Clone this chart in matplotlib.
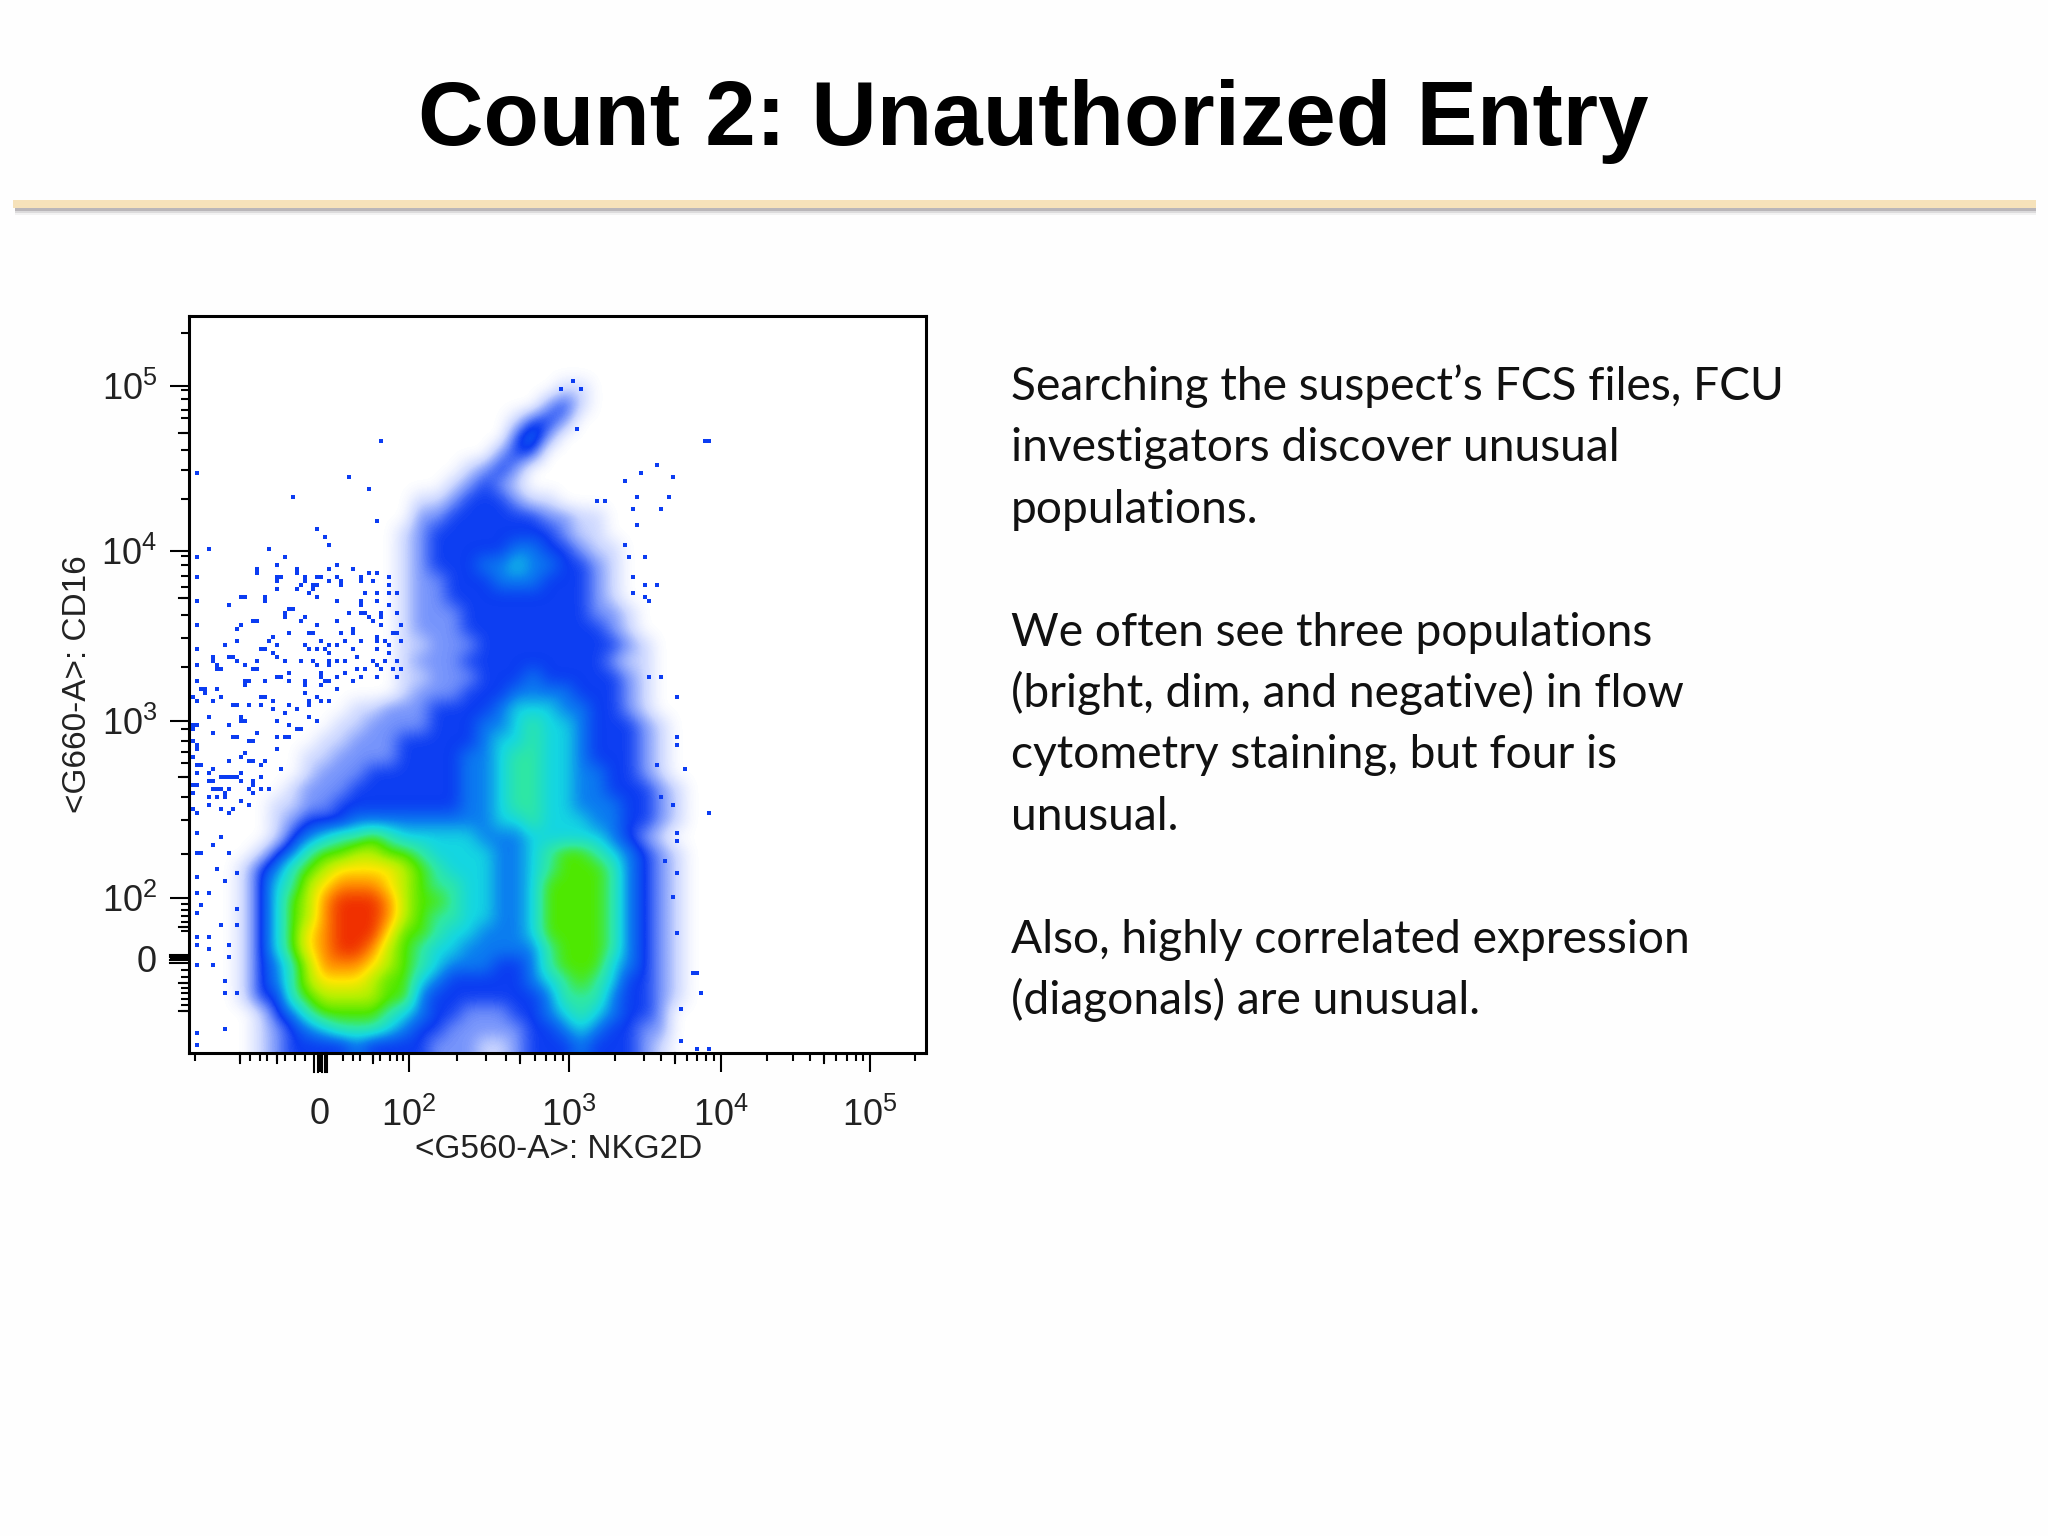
import matplotlib
matplotlib.use("Agg")
import matplotlib.pyplot as plt
from matplotlib.colors import LinearSegmentedColormap
from matplotlib.patches import Rectangle
import numpy as np

plt.rcParams['font.family'] = ['Liberation Sans', 'DejaVu Sans']
plt.rcParams['mathtext.default'] = 'regular'

W, H = 2048, 1536

title = "Count 2: Unauthorized Entry"
x_label = "<G560-A>: NKG2D"
y_label = "<G660-A>: CD16"
body_lines = [
    "Searching the suspect’s FCS files, FCU",
    "investigators discover unusual",
    "populations.",
    "",
    "We often see three populations",
    "(bright, dim, and negative) in flow",
    "cytometry staining, but four is",
    "unusual.",
    "",
    "Also, highly correlated expression",
    "(diagonals) are unusual.",
]

# density level, one string per row from the top, 4 channels a cell
# 0 = empty ... 3 = solid blue, 5 = cyan, 7 = green, 9 = yellow, b = red
density_rows = [
    "", "", "", "",
    "00000000000000000000000110",
    "00000000000000000000002310",
    "00000000000000000000133200",
    "00000000000000000000342000",
    "00000000000000000002330000",
    "00000000000000000123200000",
    "00000000000000001232100000",
    "00000000000000112333211000",
    "00000000000000223333332211",
    "0000000000000123333333321100",
    "00000000000001233333443321100000",
    "000000000000012333445443321",
    "000000000000012233344433321",
    "000000000000012233333333321",
    "0000000000000122233333333221",
    "00000000000001222333333333210",
    "00000000000001122233333333321",
    "00000000000001222333333333211",
    "00000000000001122233343333321",
    "00000000000001222333444433321",
    "00000000001122233334555443321000",
    "00000000011222233344565543332100",
    "00000000112223333345565543332100",
    "00000001122223333445665543332100",
    "00000001222333333445665544332100",
    "00000012223333333445665544333210",
    "00000112233333333445665544433210",
    "00000123334444444445565554433210",
    "000001345667655555444555554321",
    "0000134677887765555445677654321",
    "0001346789999876555445677764321",
    "000135689aaa9876655445777764321",
    "00013578abbba877655445777764321",
    "00013578abbba876655445777764321",
    "00013579abbb9776554445777764321",
    "00013579abba8765544444677764321",
    "00013468aaa98765444334677754321",
    "0001346899987754333334567653321",
    "0001336788887743333333466643321",
    "0000134677776543322233456543320",
    "0000123456665433222223345433220",
    "0000123333433332221123334333210",
]

# single events outside the main populations, in display channels
stray_x = [96, 93, 98, 97, 48, 129, 130, 117, 2, 40, 113, 121, 109, 45, 26, 112, 120, 118, 111, 102,
           104, 47, 112, 32, 34, 35, 109, 20, 5, 110, 114, 24, 2, 22, 27, 17, 23, 2, 29, 33,
           38, 111, 28, 31, 114, 117, 30, 14, 19, 22, 2, 10, 111, 114, 115, 26, 24, 29, 17, 2,
           13, 25, 31, 21, 12, 9, 2, 19, 11, 6, 17, 2, 7, 21, 118, 115, 122, 14, 2, 7,
           4, 19, 23, 25, 29, 33, 35, 122, 122, 117, 124, 118, 121, 130, 122, 122, 119, 122, 121, 122,
           126, 127, 128, 123, 123, 127, 130, 2, 2, 2, 2, 2, 2, 2, 2, 2, 2, 2, 2, 2,
           2, 2, 2, 12, 15, 18, 5, 10, 13, 6, 12, 16, 10, 6, 14, 16, 6, 9, 12, 7,
           9, 11, 15, 8, 6, 3, 10, 7, 12, 9, 5, 3, 12, 8, 5, 12, 10, 5, 10, 6,
           9, 9, 12, 9]
stray_y = [168, 166, 166, 156, 153, 153, 153, 147, 145, 144, 145, 144, 143, 141, 139, 139, 139, 136, 136, 138,
           138, 133, 132, 131, 129, 127, 127, 126, 126, 124, 124, 124, 124, 122, 121, 121, 119, 119, 119, 119,
           117, 119, 117, 117, 117, 117, 115, 114, 114, 116, 113, 112, 115, 114, 113, 111, 110, 109, 108, 107,
           107, 105, 105, 104, 103, 102, 101, 101, 99, 99, 98, 97, 97, 100, 94, 94, 89, 93, 93, 91,
           91, 89, 94, 95, 93, 94, 97, 79, 77, 72, 71, 64, 62, 60, 55, 53, 48, 45, 39, 30,
           20, 20, 15, 11, 3, 1, 1, 88, 82, 77, 72, 67, 60, 55, 50, 44, 40, 35, 29, 27,
           22, 5, 2, 87, 87, 87, 84, 82, 84, 80, 79, 78, 73, 71, 75, 73, 68, 69, 69, 66,
           64, 61, 66, 54, 52, 50, 50, 46, 45, 43, 40, 37, 36, 32, 29, 32, 27, 26, 24, 22,
           18, 15, 15, 6]

# denser scatter to the left of the middle population
scatter_x = [17, 22, 27, 22, 22, 29, 32, 37, 35, 38, 32, 27, 31, 22, 30, 32, 13, 19, 37, 10,
             25, 24, 28, 16, 32, 37, 12, 30, 25, 38, 20, 12, 9, 22, 29, 33, 35, 39, 37, 30,
             32, 34, 18, 21, 10, 22, 6, 12, 24, 31, 35, 37, 35, 28, 17, 32, 14, 39, 2, 7,
             8, 17, 16, 33, 25, 22, 23, 34, 29, 15, 14, 19, 25, 29, 33, 35, 37, 2, 7, 3,
             4, 29, 37, 8, 1, 6, 18, 30, 32, 35, 33, 11, 15, 18, 21, 25, 30, 21, 24, 27,
             30, 5, 13, 14, 22, 25, 32, 1, 10, 27, 28, 1, 6, 17, 11, 15, 22, 24, 25, 1,
             2, 22, 13, 15, 19, 10, 3, 18, 1, 6, 5, 2, 13, 23, 18, 8, 10, 11, 5, 13,
             1, 16, 16, 6, 8, 10, 16, 18, 7, 9, 1, 20, 5, 13, 5, 8, 11, 15, 1, 2, 10,
             35, 37, 41, 43, 45, 47, 50, 46, 43, 50, 44, 47, 50, 52, 43, 47, 50, 43, 40, 43,
             44, 48, 52, 45, 48, 46, 48, 53, 41, 51, 41, 47, 52, 49, 50, 53, 43, 47, 41, 47,
             50, 42, 46, 49, 52, 47, 42, 44, 48, 51, 53, 43, 39, 41, 47, 52]
scatter_y = [120, 122, 120, 119, 118, 118, 119, 119, 118, 118, 117, 116, 116, 116, 115, 114, 114, 113, 113, 112,
             111, 109, 108, 108, 107, 108, 106, 105, 105, 105, 103, 103, 102, 102, 102, 103, 102, 103, 102, 101,
             101, 101, 101, 100, 99, 99, 98, 98, 98, 98, 98, 98, 100, 98, 98, 97, 97, 98, 97, 96,
             96, 96, 96, 95, 95, 94, 94, 93, 93, 93, 92, 93, 93, 92, 92, 93, 94, 93, 91, 91,
             90, 90, 91, 89, 89, 88, 89, 88, 89, 88, 88, 87, 87, 87, 88, 87, 87, 86, 85, 86,
             84, 84, 83, 83, 83, 82, 83, 82, 82, 81, 81, 81, 80, 80, 79, 78, 79, 79, 79, 78,
             76, 76, 74, 73, 73, 73, 72, 72, 74, 71, 70, 70, 70, 71, 69, 69, 69, 69, 68, 68,
             67, 68, 67, 66, 66, 66, 65, 66, 64, 65, 65, 66, 64, 63, 62, 61, 61, 62, 61, 60, 60,
             121, 122, 121, 119, 120, 120, 119, 118, 118, 117, 115, 115, 115, 115, 113, 113, 112, 112, 110, 110,
             110, 110, 110, 109, 109, 108, 107, 107, 106, 105, 105, 104, 105, 103, 102, 103, 103, 103, 101, 101,
             100, 99, 98, 98, 98, 97, 96, 96, 96, 96, 96, 94, 95, 93, 94, 94]

# axis ticks in display channels
x_major = [32.75, 55, 95, 133, 170.25]
x_major_labels = ["0", "$10^{2}$", "$10^{3}$", "$10^{4}$", "$10^{5}$"]
x_long = [12.75, 22.1, 45.9, 82.75, 121.5, 158.75]
x_minor = [1.5, 15.25, 17.75, 19.6, 24, 26.5, 29, 38.4, 40.9, 42.75, 47.75, 50.25,
           52.1, 53.4, 67.1, 74.25, 79.25, 86.5, 89.25, 91.5, 93.4, 106.5, 113.75, 118, 124.6, 127.1,
           129.25, 131.25, 144.4, 150.9, 155.25, 161.75, 164.6, 166.75, 168.4, 181.5]
x_zero = [31.2, 32.2, 33.2, 34.0, 34.6]
y_major = [166.75, 125.5, 83, 38.75, 23.7]
y_major_labels = ["$10^{5}$", "$10^{4}$", "$10^{3}$", "$10^{2}$", "0"]
y_long = [155, 113.7, 68.9, 31.6, 17.6, 10.5]
y_minor = [180, 165.75, 163.5, 160.75, 158.7, 150.75, 145.75, 138.5, 124.25, 122, 119.3, 116.6, 109.5,
           103.7, 96.6, 81, 78, 75.3, 72.4, 64, 58.25, 49.75, 37.2, 35.7, 34.2, 32.8, 30.6,
           20.8, 19.1, 16.2, 15, 13.5, 12.1]
y_zero = [24.6, 24.0, 23.2, 22.6]

channels_x = 184.25
channels_y = 184.25

levels = ['#ffffff', '#ccd7ff', '#7593fb', '#0b3cf2', '#0b7cf0', '#14d6e2', '#2fe8a2', '#4fe800',
          '#b4f000', '#ffe600', '#ff8c00', '#f03000']
cmap = LinearSegmentedColormap.from_list("flow", levels)

fig = plt.figure(figsize=(W / 100, H / 100), dpi=100, facecolor='#fefefe')

# title and the rule under it
fig.text(1033 / W, 1 - 145 / H, title, ha='center', va='baseline', fontsize=65.3, fontweight='bold', color='black')
for off, alpha in [(7, 0.10), (5, 0.22), (3, 0.45)]:
    fig.add_artist(Rectangle((15 / W, 1 - (208 + off) / H), 2021 / W, (off + 2) / H, transform=fig.transFigure,
                             facecolor='#8f8a90', edgecolor='none', alpha=alpha))
fig.add_artist(Rectangle((13 / W, 1 - 208 / H), 2023 / W, 8 / H, transform=fig.transFigure,
                         facecolor='#f6e2ba', edgecolor='none'))

# density plot
ax = fig.add_axes([189 / W, 1 - 1053 / H, 737 / W, 737 / H])
ax.set_facecolor('white')
density = np.array([[int(ch, 16) for ch in row.ljust(46, '0')] for row in density_rows], dtype=float)
ax.imshow(density, cmap=cmap, vmin=0, vmax=11, extent=(0, 184, 0, 184), origin='upper',
          interpolation='bicubic', aspect='auto')
ax.scatter(stray_x, stray_y, marker='s', s=10, linewidths=0, color='#0b3cf2', zorder=3)
ax.scatter(scatter_x, scatter_y, marker='s', s=10, linewidths=0, color='#0b3cf2', zorder=3)

for side in ax.spines.values():
    side.set_linewidth(2.2)

ink = '#222222'
ax.set_xticks(x_major, x_major_labels)
ax.set_yticks(y_major, y_major_labels)
ax.tick_params(axis='both', which='major', length=14, width=1.5, color='black', labelsize=26, labelcolor=ink)
ax.tick_params(axis='x', which='major', pad=18)
ax.tick_params(axis='y', which='major', pad=9)
ax.set_xticks(x_minor + x_long, minor=True)
ax.set_yticks(y_minor + y_long, minor=True)
ax.tick_params(axis='both', which='minor', length=6, width=1.5, color='black')
for pos in x_long:
    ax.plot([pos, pos], [-2.4, 0], color='black', lw=1.5, clip_on=False, zorder=4)
for pos in y_long:
    ax.plot([-2.4, 0], [pos, pos], color='black', lw=1.5, clip_on=False, zorder=4)
for pos in x_zero:
    ax.plot([pos, pos], [-4.8, 0], color='black', lw=1.5, clip_on=False, zorder=4)
for pos in y_zero:
    ax.plot([-4.8, 0], [pos, pos], color='black', lw=1.5, clip_on=False, zorder=4)
ax.set_xlim(0, channels_x)
ax.set_ylim(0, channels_y)

fig.text(559 / W, 1 - 1149 / H, x_label, ha='center', va='center', fontsize=24, color=ink)
fig.text(78 / W, 1 - 684 / H, y_label, ha='center', va='center', rotation=90, fontsize=24, color=ink)

# body text on the right
baseline = 400
for line in body_lines:
    if line:
        fig.text(1011 / W, 1 - baseline / H, line, ha='left', va='baseline', fontsize=33.2,
                 family=['Lato', 'DejaVu Sans'], color='#111111')
    baseline += 61.4

fig.savefig("out.png", dpi=100, facecolor=fig.get_facecolor())
